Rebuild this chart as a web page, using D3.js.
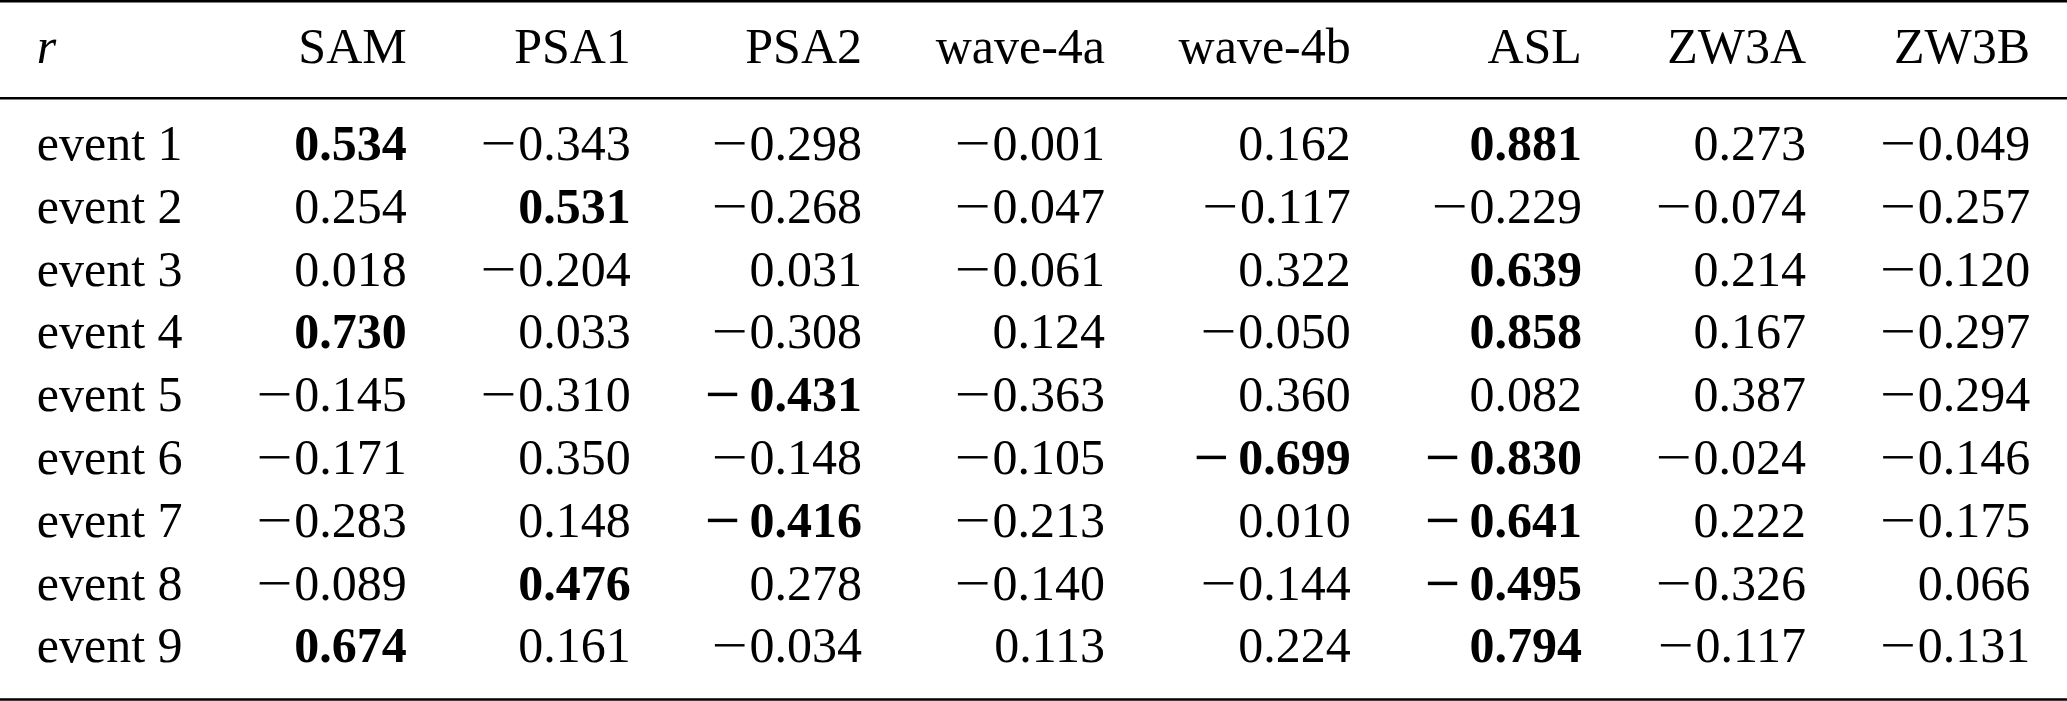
<!DOCTYPE html>
<html>
<head>
<meta charset="utf-8">
<script src="https://cdn.jsdelivr.net/npm/d3@7"></script>
<style>
  html, body { margin: 0; padding: 0; background: #fff; }
  svg { display: block; }
  text { font-family: "Liberation Serif", "Times New Roman", serif; font-size: 50px; fill: #000; }
</style>
</head>
<body>
<div id="app"></div>
<script>
/////////DATA/////////

const columns = ['SAM', 'PSA1', 'PSA2', 'wave-4a', 'wave-4b', 'ASL', 'ZW3A', 'ZW3B'];
const events = ['event 1', 'event 2', 'event 3', 'event 4', 'event 5', 'event 6', 'event 7', 'event 8', 'event 9'];

const SAM   = [0.534, 0.254, 0.018, 0.730, -0.145, -0.171, -0.283, -0.089, 0.674];
const PSA1  = [-0.343, 0.531, -0.204, 0.033, -0.310, 0.350, 0.148, 0.476, 0.161];
const PSA2  = [-0.298, -0.268, 0.031, -0.308, -0.431, -0.148, -0.416, 0.278, -0.034];
const wave4a = [-0.001, -0.047, -0.061, 0.124, -0.363, -0.105, -0.213, -0.140, 0.113];
const wave4b = [0.162, -0.117, 0.322, -0.050, 0.360, -0.699, 0.010, -0.144, 0.224];
const ASL   = [0.881, -0.229, 0.639, 0.858, 0.082, -0.830, -0.641, -0.495, 0.794];
const ZW3A  = [0.273, -0.074, 0.214, 0.167, 0.387, -0.024, 0.222, -0.326, -0.117];
const ZW3B  = [-0.049, -0.257, -0.120, -0.297, -0.294, -0.146, -0.175, 0.066, -0.131];

// |r| above this is set in bold
const boldThreshold = 0.4;

/////////SVG/////////

const w = 2067;
const h = 701;

const series = [SAM, PSA1, PSA2, wave4a, wave4b, ASL, ZW3A, ZW3B];
const cells = [];
columns.forEach((c, ci) => {
  series[ci].forEach((v, ri) => cells.push({ col: c, event: events[ri], value: v }));
});

const svg = d3.select('#app')
  .append('svg')
  .attr('width', w)
  .attr('height', h);

const yScale = d3.scalePoint()
  .domain(events)
  .range([160, 662.4]);

const headerY = 63;
const numFormat = d3.format('.3f');
const isBold = (d) => Math.abs(d.value) > boldThreshold;

/////////TEXT/////////

svg.append('text')
  .attr('class', 'col-label')
  .attr('y', headerY)
  .style('font-style', 'italic')
  .text('r');

svg.selectAll('text.row-label')
  .data(events)
  .join('text')
  .attr('class', 'row-label col-label')
  .attr('y', (d) => yScale(d))
  .text((d) => d);

const headers = svg.selectAll('text.header')
  .data(columns)
  .join('text')
  .attr('class', (d, i) => 'header col-' + i)
  .attr('y', headerY)
  .attr('text-anchor', 'end')
  .text((d) => d);

const values = svg.selectAll('text.value')
  .data(cells)
  .join('text')
  .attr('class', (d) => 'value col-' + columns.indexOf(d.col))
  .attr('y', (d) => yScale(d.event))
  .attr('text-anchor', 'end')
  .style('font-weight', (d) => isBold(d) ? 'bold' : 'normal');

// math-style minus: a longer bar, with a wider gap when bold
values.filter((d) => d.value < 0)
  .append('tspan')
  .attr('textLength', 36)
  .attr('lengthAdjust', 'spacingAndGlyphs')
  .text('\u2212');

values.append('tspan')
  .attr('dx', (d) => d.value < 0 ? (isBold(d) ? 9 : 2) : 0)
  .text((d) => numFormat(Math.abs(d.value)));

/////////COLUMN LAYOUT (tabular style)/////////

const widthOf = (sel) => d3.max(sel.nodes(), (n) => n.getBBox().width);
const colWidths = [widthOf(svg.selectAll('.col-label'))]
  .concat(columns.map((c, i) => widthOf(svg.selectAll('.col-' + i))));
const pad = (w - d3.sum(colWidths)) / (2 * colWidths.length);

const lefts = [];
colWidths.reduce((x, cw) => { lefts.push(x + pad); return x + cw + 2 * pad; }, 0);

const xRight = d3.scaleOrdinal()
  .domain(columns)
  .range(columns.map((c, i) => lefts[i + 1] + colWidths[i + 1]));

svg.selectAll('.col-label').attr('x', lefts[0]);
headers.attr('x', (d) => xRight(d));
values.attr('x', (d) => xRight(d.col));

/////////RULES/////////

svg.selectAll('line.rule')
  .data([1.2, 98.3, 699.5])
  .join('line')
  .attr('class', 'rule')
  .attr('x1', 0)
  .attr('x2', w)
  .attr('y1', (d) => d)
  .attr('y2', (d) => d)
  .attr('stroke', '#000')
  .attr('stroke-width', 2.6);
</script>
</body>
</html>
